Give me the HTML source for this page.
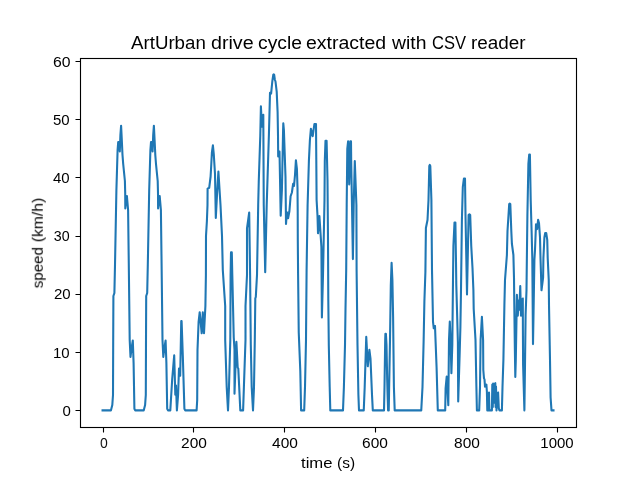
<!DOCTYPE html>
<html><head><meta charset="utf-8"><title>ArtUrban drive cycle</title>
<style>
html,body{margin:0;padding:0;background:#fff;}
body{width:640px;height:480px;position:relative;overflow:hidden;font-family:"Liberation Sans",sans-serif;color:#000;}
.t{will-change:transform;position:absolute;white-space:nowrap;line-height:1;font-size:14.0px;}
.w{position:absolute;top:0;left:0;white-space:nowrap;transform-origin:0 50%;}
.xt{width:100px;text-align:center;transform-origin:50% 50%;}
.yt{right:569.8px;text-align:right;transform-origin:100% 50%;}
#title{left:0;width:640px;height:17.5px;top:35.3px;font-size:17.5px;}
#xl{left:0;width:640px;height:14.5px;top:456.1px;font-size:14.5px;}
#yl{left:-62.3px;width:200px;height:14.5px;top:235.95px;font-size:14.5px;transform:rotate(-90deg);transform-origin:50% 50%;}
</style></head><body>
<svg width="640" height="480" viewBox="0 0 640 480" style="position:absolute;left:0;top:0">
<rect x="0" y="0" width="640" height="480" fill="#ffffff"/>
<path d="M102.55,410.40 L110.90,410.40 L112.30,405.00 L113.00,395.00 L113.20,340.00 L113.40,296.00 L114.40,293.00 L115.00,265.00 L116.40,190.00 L117.60,150.00 L118.20,142.10 L119.10,142.10 L119.80,151.40 L120.40,135.00 L121.10,125.70 L121.80,140.00 L122.50,155.00 L123.20,164.00 L124.90,181.00 L125.20,193.00 L125.30,208.45 L126.20,200.00 L126.90,196.00 L127.50,203.00 L128.10,210.00 L128.80,265.00 L129.70,340.00 L130.50,356.90 L131.60,348.00 L132.80,340.50 L133.60,363.40 L134.40,408.75 L135.20,410.40 L143.70,410.40 L145.10,405.00 L145.80,395.00 L146.00,340.00 L146.20,296.00 L147.20,293.00 L147.80,265.00 L149.20,190.00 L150.40,150.00 L151.00,142.10 L151.90,142.10 L152.60,151.40 L153.20,135.00 L153.90,125.70 L154.60,140.00 L155.30,155.00 L156.00,164.00 L157.70,181.00 L158.00,193.00 L158.10,208.45 L159.00,200.00 L159.70,196.00 L160.30,203.00 L160.90,210.00 L161.60,265.00 L162.50,340.00 L163.30,356.90 L164.40,348.00 L165.60,340.50 L166.40,363.40 L167.20,408.75 L168.00,410.40 L170.30,410.40 L172.20,379.00 L174.20,355.30 L175.30,394.70 L176.00,385.50 L176.90,410.40 L178.10,394.70 L179.00,368.50 L180.20,375.70 L181.25,321.00 L181.60,321.00 L182.80,355.60 L184.40,408.75 L185.20,410.40 L196.60,410.40 L197.20,400.00 L197.50,350.00 L198.60,321.90 L199.70,312.20 L201.70,333.30 L202.80,312.20 L204.00,333.30 L205.40,306.00 L205.90,275.00 L206.00,236.00 L206.90,221.00 L207.50,205.00 L207.60,188.60 L209.20,187.80 L210.60,176.50 L211.20,166.00 L211.90,152.50 L212.90,145.40 L213.75,153.75 L215.00,174.00 L215.80,218.00 L217.00,195.00 L218.40,171.50 L220.50,205.00 L222.00,236.00 L222.80,270.00 L225.20,306.00 L225.20,340.00 L226.70,386.90 L228.00,410.40 L229.00,386.90 L230.30,340.00 L230.60,275.00 L231.00,252.40 L231.80,252.40 L232.30,275.00 L233.75,337.50 L234.50,350.00 L234.50,393.70 L236.40,341.90 L237.70,367.70 L238.30,368.50 L240.30,410.40 L243.10,410.40 L243.90,387.00 L245.50,340.00 L245.50,306.00 L247.00,275.00 L247.00,228.40 L249.20,212.50 L250.10,275.00 L250.80,345.00 L251.70,387.00 L253.00,410.40 L254.00,387.00 L254.80,340.00 L255.30,298.40 L255.80,297.00 L257.00,275.00 L258.20,205.00 L258.75,181.90 L260.30,135.00 L260.90,106.40 L261.90,126.70 L263.30,114.70 L263.40,135.00 L263.75,205.00 L265.20,272.20 L266.70,205.00 L268.90,135.00 L269.90,97.00 L270.00,92.80 L271.10,93.70 L272.30,81.50 L273.30,74.60 L273.70,74.40 L274.20,74.80 L274.80,79.50 L275.50,81.50 L276.70,91.60 L277.60,111.90 L278.00,135.00 L278.20,156.40 L279.50,151.50 L280.70,215.70 L281.90,190.00 L283.10,130.00 L283.30,123.30 L283.90,130.00 L285.50,176.90 L286.00,224.00 L286.90,212.20 L288.10,218.30 L289.40,211.25 L290.60,196.25 L291.90,192.50 L293.10,183.80 L294.00,186.00 L295.00,175.00 L295.90,160.20 L296.90,168.75 L297.50,187.50 L297.70,210.00 L297.80,240.00 L298.10,275.00 L298.75,332.50 L300.30,371.00 L301.10,410.40 L304.20,410.40 L305.00,387.00 L306.00,340.00 L306.60,270.00 L307.60,205.00 L308.90,161.00 L309.90,140.00 L310.90,128.80 L312.70,136.20 L314.40,124.10 L316.00,124.10 L316.30,161.00 L316.60,200.00 L317.50,215.60 L318.00,233.30 L319.40,216.10 L321.40,246.90 L321.90,317.40 L323.00,275.00 L324.50,200.00 L324.80,161.00 L325.50,140.70 L326.60,140.70 L327.50,180.00 L328.00,240.00 L328.30,300.00 L328.80,345.00 L329.70,387.00 L330.30,410.40 L343.00,410.40 L343.90,387.00 L345.00,345.00 L345.50,309.00 L346.20,270.00 L346.70,205.00 L347.30,148.75 L348.10,141.30 L349.20,184.40 L350.30,141.30 L351.00,141.30 L351.20,161.00 L351.90,200.00 L352.90,259.10 L353.70,205.00 L354.80,161.00 L356.40,205.00 L356.60,270.00 L357.50,345.00 L358.40,394.70 L359.00,410.40 L363.75,410.40 L364.70,387.00 L366.25,336.90 L367.80,366.30 L369.40,349.90 L370.50,358.75 L372.00,394.70 L372.80,410.40 L384.00,410.40 L384.50,387.00 L385.20,340.00 L385.40,333.80 L385.90,333.80 L386.50,345.00 L387.20,380.00 L387.60,395.00 L388.10,410.40 L388.75,410.40 L389.10,390.00 L390.00,340.00 L390.80,285.60 L391.60,262.70 L392.40,280.00 L393.10,316.90 L393.90,387.00 L394.70,410.40 L421.25,410.40 L422.50,387.00 L423.60,342.00 L424.40,301.00 L425.40,272.00 L425.90,228.00 L427.50,220.00 L428.50,200.00 L429.30,166.00 L429.80,164.90 L430.30,166.00 L431.40,200.00 L432.00,270.00 L433.00,321.60 L433.75,328.30 L435.00,326.00 L435.60,342.00 L436.60,368.00 L437.80,410.40 L445.20,410.40 L445.60,388.40 L446.70,376.50 L448.30,405.30 L449.00,340.00 L449.80,321.50 L450.60,340.00 L451.40,373.30 L452.30,345.00 L453.00,280.00 L453.40,246.00 L454.50,222.50 L455.40,222.50 L456.00,262.00 L456.30,285.00 L457.90,342.50 L458.20,401.40 L459.60,355.60 L460.40,327.00 L461.00,290.00 L461.90,220.00 L462.80,187.20 L463.90,178.60 L465.00,178.60 L465.50,215.00 L467.00,294.50 L468.60,215.00 L469.40,214.25 L470.20,215.00 L471.25,246.00 L472.50,268.00 L473.40,290.00 L473.70,309.00 L475.50,340.00 L476.40,387.00 L476.90,410.40 L479.20,410.40 L480.00,387.00 L480.60,340.00 L481.90,316.75 L483.10,340.00 L483.30,370.00 L484.00,378.40 L484.50,379.40 L485.00,386.60 L486.40,384.50 L486.90,392.00 L487.30,410.40 L487.90,393.50 L488.50,410.40 L489.00,392.50 L489.40,410.40 L491.90,410.40 L492.30,384.50 L492.80,407.10 L493.10,383.50 L493.60,402.00 L494.30,402.70 L494.90,384.00 L495.30,383.20 L495.60,407.10 L496.00,386.50 L496.50,410.40 L497.30,394.00 L498.10,392.50 L498.80,408.40 L499.50,410.40 L501.90,410.40 L502.50,387.00 L503.40,360.00 L504.40,305.00 L505.00,280.00 L506.90,255.00 L507.50,231.00 L509.20,204.00 L509.75,203.60 L510.30,204.00 L511.30,231.00 L511.90,243.75 L513.40,255.00 L514.00,278.00 L514.30,305.00 L514.80,345.00 L515.30,376.90 L515.80,360.00 L516.90,294.90 L517.80,315.70 L518.70,300.50 L519.30,309.70 L520.25,286.10 L521.00,315.70 L521.90,300.00 L522.80,298.50 L522.90,330.00 L523.10,365.00 L524.40,410.40 L525.00,365.00 L525.60,315.00 L526.50,290.00 L526.90,255.00 L527.40,215.00 L528.40,163.75 L529.20,154.50 L529.90,154.50 L530.70,200.00 L531.60,231.00 L532.30,258.00 L533.00,344.10 L533.50,315.00 L534.40,260.00 L535.00,250.00 L536.00,224.25 L537.10,229.10 L538.10,219.90 L539.00,223.00 L540.00,237.50 L540.50,258.00 L541.50,290.30 L543.10,277.50 L543.40,258.00 L544.40,237.50 L545.20,233.00 L546.20,233.00 L547.25,240.00 L547.70,258.00 L548.75,280.00 L549.00,305.00 L550.00,360.00 L550.60,397.50 L551.50,410.40 L553.50,410.40" fill="none" stroke="#1f77b4" stroke-width="2.083" stroke-linejoin="round" stroke-linecap="square"/>
<path d="M103.5,427.5 V432.5 M193.5,427.5 V432.5 M284.5,427.5 V432.5 M375.5,427.5 V432.5 M466.5,427.5 V432.5 M557.5,427.5 V432.5 M80.5,410.5 H75.5 M80.5,352.5 H75.5 M80.5,294.5 H75.5 M80.5,236.5 H75.5 M80.5,177.5 H75.5 M80.5,119.5 H75.5 M80.5,61.5 H75.5" stroke="#000" stroke-width="1.11" fill="none"/>
<rect x="80.5" y="58.5" width="496" height="369" fill="none" stroke="#000" stroke-width="1.11" stroke-linejoin="miter"/>
</svg>
<div class="t" id="title"><span class="w" style="left:130.80px;transform:scaleX(1.0685)">ArtUrban</span> <span class="w" style="left:211.00px;transform:scaleX(1.1243)">drive</span> <span class="w" style="left:258.00px;transform:scaleX(1.1011)">cycle</span> <span class="w" style="left:306.00px;transform:scaleX(1.1142)">extracted</span> <span class="w" style="left:391.80px;transform:scaleX(1.1062)">with</span> <span class="w" style="left:432.00px;transform:scaleX(0.9456)">CSV</span> <span class="w" style="left:471.00px;transform:scaleX(1.0800)">reader</span></div>
<div class="t" id="xl"><span class="w" style="left:300.80px;transform:scaleX(1.1499)">time</span> <span class="w" style="left:337.00px;transform:scaleX(1.0673)">(s)</span></div>
<div class="t" id="yl"><span class="w" style="left:55.00px;transform:scaleX(1.0389)">speed</span> <span class="w" style="left:101.00px;transform:scaleX(1.0800)">(km/h)</span></div>
<div class="t xt" style="left:53.75px;top:435.6px;transform:scaleX(0.9630)">0</div>
<div class="t xt" style="left:143.76px;top:435.6px;transform:scaleX(1.1057)">200</div>
<div class="t xt" style="left:234.58px;top:435.6px;transform:scaleX(1.1057)">400</div>
<div class="t xt" style="left:325.40px;top:435.6px;transform:scaleX(1.1057)">600</div>
<div class="t xt" style="left:417.02px;top:435.6px;transform:scaleX(1.1057)">800</div>
<div class="t xt" style="left:506.63px;top:435.6px;transform:scaleX(1.0700)">1000</div>
<div class="t yt" style="top:404.20px;right:569.00px;transform:scaleX(1.0700)">0</div>
<div class="t yt" style="top:345.97px;right:570.60px;transform:scaleX(1.0700)">10</div>
<div class="t yt" style="top:286.94px;right:569.80px;transform:scaleX(1.0700)">20</div>
<div class="t yt" style="top:228.70px;right:570.60px;transform:scaleX(1.0165)">30</div>
<div class="t yt" style="top:171.27px;right:570.60px;transform:scaleX(1.0700)">40</div>
<div class="t yt" style="top:113.04px;right:570.60px;transform:scaleX(1.0700)">50</div>
<div class="t yt" style="top:54.81px;right:569.80px;transform:scaleX(1.1271)">60</div>
</body></html>
